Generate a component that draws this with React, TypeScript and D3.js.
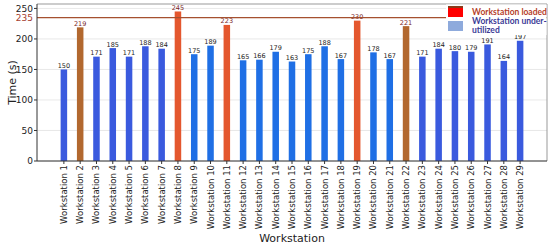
import React from "react";
import * as d3 from "d3";

const width = 550;
const height = 244;

const stations = d3.range(1, 30).map(i => `Workstation ${i}`);
const times = [
  150, 219, 171, 185, 171, 188, 184, 245, 175, 189, 223, 165, 166, 179, 163,
  175, 188, 167, 230, 178, 167, 221, 171, 184, 180, 179, 191, 164, 197
];
const loaded = [2, 8, 11, 19, 22]; // workstation numbers over the limit
const limit = 235;
const yTicks = [0, 50, 100, 150, 200, 250];

const margin = { left: 37, right: 3, top: 4, bottom: 83 };

// colours, they drift a bit across the chart
function barColor(i: number): string {
  const n = i + 1;
  if (n === 2 || n === 22) return "#b2682f";
  if (loaded.includes(n)) return "#e4572e";
  if (n >= 9 && n <= 21) return "#1f6fe5";
  return "#3a5ade";
}

const App = () => {
  const x = d3
    .scaleBand<string>()
    .domain(stations)
    .range([margin.left, width - margin.right])
    .paddingInner(0.6)
    .paddingOuter(1.45);

  const y = d3
    .scaleLinear()
    .domain([0, 257.25])
    .range([height - margin.bottom, margin.top]);

  const x0 = margin.left;
  const x1 = width - margin.right;
  const y0 = y(0);
  const yTop = margin.top;

  return (
    <svg
      width={width}
      height={height}
      style={{ position: "absolute", left: 0, top: 0, background: "#fff" }}
      fontFamily="DejaVu Sans, sans-serif"
    >
      {/* grid */}
      {yTicks.map(t => (
        <line
          key={t}
          x1={x0}
          x2={x1}
          y1={y(t)}
          y2={y(t)}
          stroke="#e2e2e2"
          strokeWidth={0.8}
        />
      ))}

      {/* bars */}
      {times.map((v, i) => (
        <rect
          key={i}
          x={x(stations[i])}
          y={y(v)}
          width={x.bandwidth()}
          height={y0 - y(v)}
          fill={barColor(i)}
        />
      ))}

      {/* values */}
      {times.map((v, i) => (
        <text
          key={i}
          x={(x(stations[i]) as number) + x.bandwidth() / 2}
          y={y(v) - 1.5}
          textAnchor="middle"
          fontSize={6.5}
          fill={loaded.includes(i + 1) ? "#7a1f1f" : "#222"}
        >
          {v}
        </text>
      ))}

      {/* limit line */}
      <line
        x1={x0}
        x2={x1}
        y1={y(limit)}
        y2={y(limit)}
        stroke="#a5502f"
        strokeWidth={1.2}
      />

      {/* frame */}
      <line x1={x0} x2={x1} y1={yTop} y2={yTop} stroke="#999" strokeWidth={1} />
      <line x1={x1} x2={x1} y1={yTop} y2={y0} stroke="#999" strokeWidth={1} />
      <line x1={x0} x2={x0} y1={yTop} y2={y0} stroke="#333" strokeWidth={1} />
      <line x1={x0} x2={x1} y1={y0} y2={y0} stroke="#333" strokeWidth={1} />

      {/* y axis */}
      {yTicks.map(t => (
        <g key={t}>
          <line x1={x0 - 3} x2={x0} y1={y(t)} y2={y(t)} stroke="#333" />
          <text
            x={x0 - 4}
            y={y(t)}
            dy="0.35em"
            textAnchor="end"
            fontSize={9}
            fill="#222"
          >
            {t}
          </text>
        </g>
      ))}
      <text
        x={x0 - 4}
        y={y(limit)}
        dy="0.35em"
        textAnchor="end"
        fontSize={9}
        fill="#a5402f"
      >
        {limit}
      </text>
      <text
        transform={`translate(12,${(yTop + y0) / 2}) rotate(-90)`}
        textAnchor="middle"
        dy="0.35em"
        fontSize={11}
        fill="#222"
      >
        Time (s)
      </text>

      {/* x axis */}
      {stations.map(s => {
        const cx = (x(s) as number) + x.bandwidth() / 2;
        return (
          <g key={s}>
            <line x1={cx} x2={cx} y1={y0} y2={y0 + 3} stroke="#333" />
            <text
              transform={`translate(${cx},${y0 + 4}) rotate(-90)`}
              textAnchor="end"
              dy="0.35em"
              fontSize={8.5}
              fill="#222"
            >
              {s}
            </text>
          </g>
        );
      })}
      <text
        x={(x0 + x1) / 2}
        y={241.5}
        textAnchor="middle"
        fontSize={11}
        fill="#222"
      >
        Workstation
      </text>

      {/* legend */}
      <g fontFamily="Lato, sans-serif" fontWeight="bold" fontSize={8.5}>
        <rect x={446} y={yTop + 0.5} width={x1 - 446 - 0.5} height={30.5} fill="#fff" />
        <rect x={448} y={6} width={15} height={11} fill="#ff0000" />
        <rect x={448} y={6} width={15} height={2} fill="#8b3a1a" />
        <rect x={448} y={21} width={15} height={10} fill="#8eaadc" />
        <text x={472} y={15} fill="#b5402a">
          Workstation loaded
        </text>
        <text x={472} y={24} fill="#3b3b96">
          Workstation under-
        </text>
        <text x={472} y={33} fill="#3b3b96">
          utilized
        </text>
      </g>
    </svg>
  );
};

export default App;
